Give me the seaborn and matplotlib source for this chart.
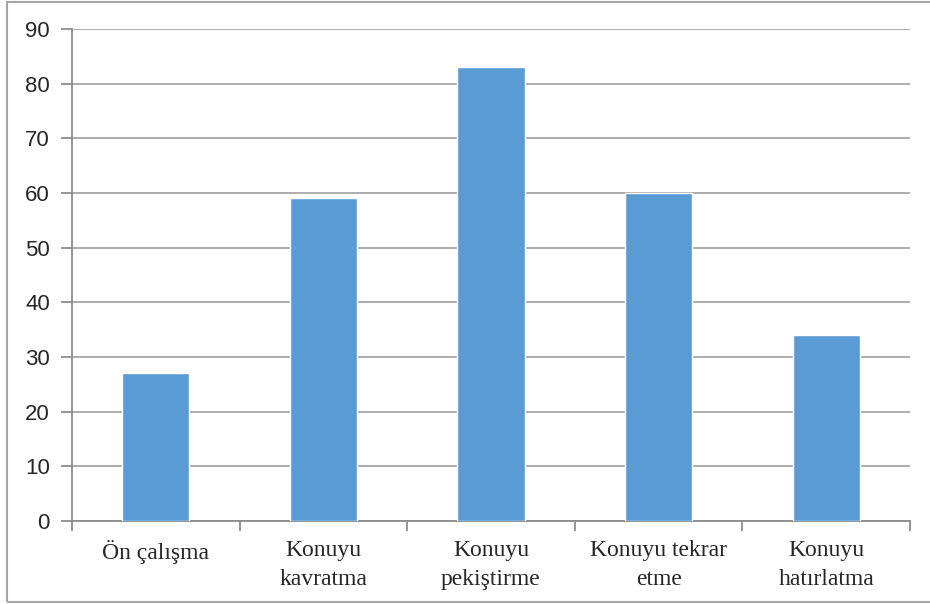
import matplotlib
matplotlib.use('Agg')
import matplotlib.pyplot as plt
import seaborn as sns
import pandas as pd
from matplotlib.patches import Rectangle

# data
categories = ['Ön çalışma', 'Konuyu\nkavratma', 'Konuyu\npekiştirme', 'Konuyu tekrar\netme', 'Konuyu\nhatırlatma']
values = [27, 59, 83, 60, 34]
yticks = list(range(0, 91, 10))

df = pd.DataFrame({'kategori': categories, 'deger': values})

sns.set_style('white')
plt.rcParams['font.family'] = ['Liberation Serif']

fig = plt.figure(figsize=(9.3, 6.04), dpi=100)
ax = fig.add_axes([0.0774, 0.1374, 0.9011, 0.8146])

sns.barplot(data=df, x='kategori', y='deger', ax=ax, color='#5B9BD5',
            width=0.4, saturation=1, zorder=3)

ax.set_ylim(0, 90)
ax.set_xlim(-0.5, len(categories) - 0.5)
ax.set_xlabel('')
ax.set_ylabel('')

ax.yaxis.grid(True, color='#A6A6A6', linewidth=1.3, zorder=0)
ax.set_axisbelow(True)

for side in ['top', 'right']:
    ax.spines[side].set_visible(False)
for side in ['left', 'bottom']:
    ax.spines[side].set_color('#8C8C8C')
    ax.spines[side].set_linewidth(1.3)

# ticks: y ticks at the grid lines, x ticks between categories
ax.tick_params(axis='y', length=8, width=1.3, color='#8C8C8C', pad=8, left=True)
ax.tick_params(axis='x', length=0, pad=14)
ax.set_xticks([i - 0.5 for i in range(len(categories) + 1)], minor=True)
ax.tick_params(axis='x', which='minor', length=7, width=1.3, color='#8C8C8C', bottom=True)

ax.set_yticks(yticks, labels=[str(v) for v in yticks], fontsize=16, family='Liberation Sans')
ax.set_xticks(range(len(categories)), labels=categories, fontsize=17,
              family='Liberation Serif', linespacing=1.45)

# outer chart border
fig.patches.append(Rectangle((7 / 930, 2 / 604), 1.0, 600 / 604, transform=fig.transFigure,
                             fill=False, edgecolor='#A6A6A6', linewidth=1.5))

plt.savefig('out.png', dpi=100)
